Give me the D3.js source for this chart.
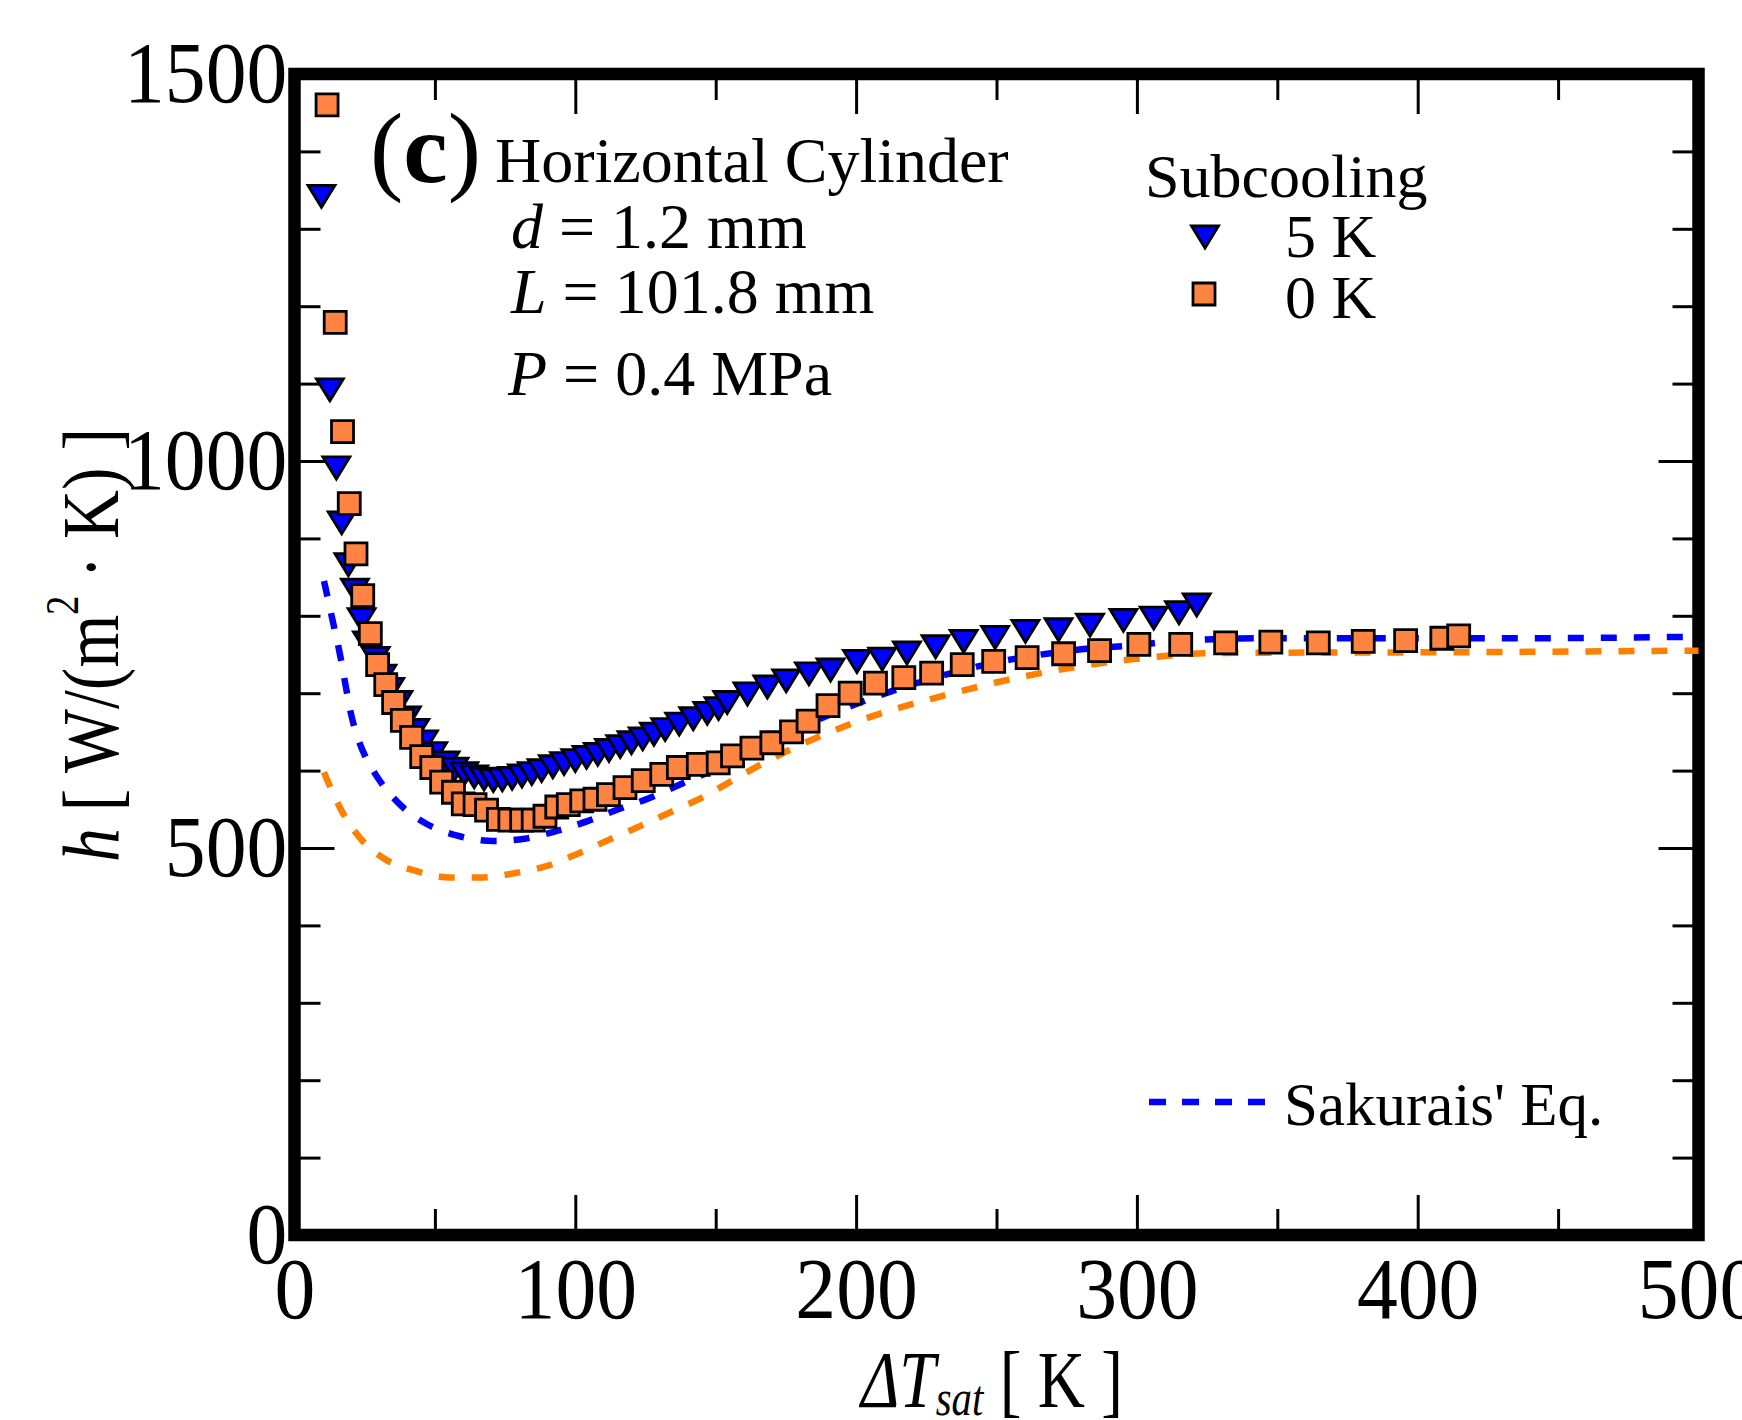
<html>

<head>
  <script src="https://d3js.org/d3.v7.min.js"></script>
</head>

<style>
  body {
    margin: 0;
    background: white;
  }

  text {
    font-family: "Liberation Serif", "Times New Roman", serif;
    fill: black;
  }

  .tick line {
    stroke: black;
    stroke-width: 3px;
  }

  .sakurai {
    fill: none;
    stroke-width: 6.5px;
    stroke-dasharray: 16 17;
  }
</style>

<body>

  <svg id="chart" width="1742" height="1420"></svg>

  <script>

    // subcooling 5 K (triangles)
    const dT5 = [9.6, 12.6, 14.9, 16.8, 19.2, 21.5, 23.9, 25.8, 28.9, 31.3, 34.1, 37.0, 40.0, 43.0, 46.1, 49.4,
      53.8, 57.0, 60.5, 64.0, 67.5, 70.8, 74.0, 77.5, 81.0, 84.5, 88.0, 92.0, 96.0, 100.0, 104.0, 108.0, 112.0,
      116.0, 120.0, 124.0, 128.0, 132.0, 137.0, 142.0, 147.0, 151.0, 154.1, 161.3, 168.4, 175.1, 183.2, 190.9,
      200.3, 209.3, 218.1, 228.3, 238.3, 249.5, 260.3, 272.1, 283.3, 295.2, 306.0, 315.0, 321.3];
    const h5 = [1342, 1092, 991, 920, 866, 833, 795, 765, 745, 722, 705, 688, 668, 652, 637, 622,
      610, 602, 596, 592, 589, 587, 588, 590, 593, 596, 600, 605, 609, 613, 617, 621, 626,
      631, 636, 641, 647, 653, 660, 667, 674, 680, 688, 699, 708, 716, 725, 730,
      741, 744, 752, 760, 767, 772, 780, 782, 788, 794, 797, 804, 814];

    // subcooling 0 K (squares)
    const dT0 = [11.6, 14.5, 17.1, 19.5, 21.9, 24.3, 27.0, 29.6, 32.5, 35.3, 38.4, 41.7, 45.3, 48.9, 52.4, 56.6,
      60.1, 64.3, 68.4, 72.6, 76.7, 80.9, 85.0, 89.2, 93.4, 97.5, 102.3, 107.0, 111.8, 117.7, 124.2, 130.8,
      136.7, 143.8, 150.9, 156.0, 162.9, 170.0, 177.0, 182.9, 190.0, 197.9, 206.9, 217.0, 226.9, 237.8, 249.0,
      260.9, 273.9, 286.7, 300.7, 315.6, 331.6, 347.7, 364.6, 380.6, 395.7, 408.6, 414.6];
    const h0 = [1460, 1179, 1038, 945, 880, 826, 777, 737, 711, 688, 665, 643, 618, 604, 585, 572,
      557, 556, 549, 537, 536, 536, 536, 541, 553, 556, 561, 563, 569, 578, 587, 595,
      604, 608, 610, 619, 629, 636, 650, 664, 684, 700, 713, 720, 726, 737, 741,
      746, 751, 755, 763, 763, 765, 766, 765, 767, 768, 771, 774];

    // Sakurai's equation, 5 K (blue dashed)
    const sakT5 = [10.5, 13.7, 16.2, 18.3, 20.2, 22.3, 25.0, 28.0, 31.5, 37.6, 47.1, 58.0, 70.8, 82.0, 93.4,
      104.6, 115.3, 126.0, 137.3, 150.0, 165.0, 180.0, 201.4, 213.0, 230.0, 250.0, 270.0, 287.0, 296.0, 316.0,
      345.0, 433.0, 500.0];
    const sakH5 = [845, 792, 750, 708, 672, 645, 620, 600, 581, 556, 531, 516, 509, 512, 522,
      535, 550, 564, 582, 602, 628, 655, 688, 703, 722, 740, 752, 759, 761, 768,
      771, 771, 773];

    // Sakurai's equation, 0 K (orange dashed)
    const sakT0 = [10.5, 12.0, 16.8, 23.3, 31.6, 43.5, 55.4, 67.2, 79.1, 91.0, 101.7, 113.5, 124.2, 134.9,
      145.6, 156.3, 168.2, 197.8, 233.4, 263.0, 298.7, 330.6, 418.0, 500.0];
    const sakH0 = [598, 585, 548, 513, 487, 470, 462, 462, 468, 478, 494, 513, 530, 548,
      566, 588, 612, 660, 699, 724, 744, 752, 753, 755];

    const xMajorTicks = [0, 100, 200, 300, 400, 500];
    const xMinorTicks = [50, 150, 250, 350, 450];
    const yMajorTicks = [0, 500, 1000, 1500];
    const yMinorTicks = [100, 200, 300, 400, 600, 700, 800, 900, 1100, 1200, 1300, 1400];

    const svg = d3.select("svg#chart");
    const frameWidth = 12.5;
    const majorLen = 40;   // measured from frame centre line
    const minorLen = 26;

    const xScale = d3.scaleLinear().domain([0, 500]).range([294.5, 1698.5]);
    const yScale = d3.scaleLinear().domain([0, 1500]).range([1235, 74]);

    const x0 = xScale(0), x1 = xScale(500), y0 = yScale(0), y1 = yScale(1500);

    // axes (ticks point inwards)
    let axes = svg.append("g").attr("id", "axes");

    function tidy(g) {
      g.select(".domain").remove();
      g.attr("font-family", "Liberation Serif, serif").attr("font-size", 86);
      g.selectAll(".tick text").attr("transform", "scale(0.95,1)");
    }

    axes.append("g").attr("transform", `translate(0,${y0})`)
      .call(d3.axisBottom(xScale).tickValues(xMajorTicks).tickSize(-majorLen).tickPadding(22).tickFormat(d3.format("d")))
      .call(tidy);
    axes.append("g").attr("transform", `translate(0,${y0})`)
      .call(d3.axisBottom(xScale).tickValues(xMinorTicks).tickSize(-minorLen).tickFormat(""))
      .call(tidy);
    axes.append("g").attr("transform", `translate(0,${y1})`)
      .call(d3.axisTop(xScale).tickValues(xMajorTicks).tickSize(-majorLen).tickFormat(""))
      .call(tidy);
    axes.append("g").attr("transform", `translate(0,${y1})`)
      .call(d3.axisTop(xScale).tickValues(xMinorTicks).tickSize(-minorLen).tickFormat(""))
      .call(tidy);

    axes.append("g").attr("transform", `translate(${x0},0)`)
      .call(d3.axisLeft(yScale).tickValues(yMajorTicks).tickSize(-majorLen).tickPadding(7.5).tickFormat(d3.format("d")))
      .call(tidy);
    axes.append("g").attr("transform", `translate(${x0},0)`)
      .call(d3.axisLeft(yScale).tickValues(yMinorTicks).tickSize(-minorLen).tickFormat(""))
      .call(tidy);
    axes.append("g").attr("transform", `translate(${x1},0)`)
      .call(d3.axisRight(yScale).tickValues(yMajorTicks).tickSize(-majorLen).tickFormat(""))
      .call(tidy);
    axes.append("g").attr("transform", `translate(${x1},0)`)
      .call(d3.axisRight(yScale).tickValues(yMinorTicks).tickSize(-minorLen).tickFormat(""))
      .call(tidy);

    // thick frame
    axes.append("rect")
      .attr("x", x0).attr("y", y1)
      .attr("width", x1 - x0).attr("height", y0 - y1)
      .attr("fill", "none")
      .attr("stroke", "black")
      .attr("stroke-width", frameWidth);

    // Sakurai curves
    const lineGen = d3.line()
      .x(d => xScale(d[0]))
      .y(d => yScale(d[1]))
      .curve(d3.curveMonotoneX);

    let chartArea = svg.append("g").attr("id", "points");

    chartArea.append("path")
      .datum(d3.zip(sakT0, sakH0))
      .attr("class", "sakurai")
      .attr("stroke", "#ff8000")
      .attr("d", lineGen);

    chartArea.append("path")
      .datum(d3.zip(sakT5, sakH5))
      .attr("class", "sakurai")
      .attr("stroke", "#0000ff")
      .attr("d", lineGen);

    // markers
    const triPath = "M-13.5,-11L13.5,-11L0,11Z";
    const sqPath = "M-11,-11H11V11H-11Z";

    chartArea.append("g").selectAll("path")
      .data(d3.zip(dT5, h5))
      .join("path")
      .attr("d", triPath)
      .attr("transform", d => `translate(${xScale(d[0])},${yScale(d[1])})`)
      .attr("fill", "#0000ff")
      .attr("stroke", "black")
      .attr("stroke-width", 2.8);

    chartArea.append("g").selectAll("path")
      .data(d3.zip(dT0, h0))
      .join("path")
      .attr("d", sqPath)
      .attr("transform", d => `translate(${xScale(d[0])},${yScale(d[1])})`)
      .attr("fill", "#ff8442")
      .attr("stroke", "black")
      .attr("stroke-width", 2.8);

    // annotations
    let annotations = svg.append("g").attr("id", "annotations");

    const cLabel = annotations.append("text").attr("x", 370).attr("y", 182).attr("font-size", 100);
    cLabel.append("tspan").text("(");
    cLabel.append("tspan").attr("font-weight", "bold").text("c");
    cLabel.append("tspan").text(")");

    annotations.append("text").attr("x", 495).attr("y", 182).attr("font-size", 64).text("Horizontal Cylinder");

    const params = [
      { sym: "d", rest: " = 1.2 mm", x: 511, y: 248 },
      { sym: "L", rest: " = 101.8 mm", x: 511, y: 313 },
      { sym: "P", rest: " = 0.4 MPa", x: 508, y: 395 }
    ];
    params.forEach(p => {
      const t = annotations.append("text").attr("x", p.x).attr("y", p.y).attr("font-size", 64);
      t.append("tspan").attr("font-style", "italic").text(p.sym);
      t.append("tspan").text(p.rest);
    });

    // legend
    annotations.append("text").attr("x", 1145).attr("y", 197).attr("font-size", 62).text("Subcooling");
    annotations.append("path").attr("d", triPath).attr("transform", "translate(1205,237)")
      .attr("fill", "#0000ff").attr("stroke", "black").attr("stroke-width", 2.8);
    annotations.append("text").attr("x", 1285).attr("y", 257).attr("font-size", 62).text("5 K");
    annotations.append("path").attr("d", sqPath).attr("transform", "translate(1204,294)")
      .attr("fill", "#ff8442").attr("stroke", "black").attr("stroke-width", 2.8);
    annotations.append("text").attr("x", 1285).attr("y", 318).attr("font-size", 62).text("0 K");

    annotations.append("line")
      .attr("x1", 1149).attr("x2", 1268).attr("y1", 1102).attr("y2", 1102)
      .attr("stroke", "#0000ff").attr("stroke-width", 6.5).attr("stroke-dasharray", "17 16");
    annotations.append("text").attr("x", 1284).attr("y", 1125).attr("font-size", 61).text("Sakurais' Eq.");

    // axis titles, squeezed to the measured length
    function fitLength(sel, target, base) {
      const w = sel.node().getComputedTextLength();
      sel.attr("transform", `${base} scale(${target / w},1)`);
    }

    const xTitle = annotations.append("text")
      .attr("text-anchor", "middle").attr("font-size", 80);
    xTitle.append("tspan").attr("font-style", "italic").text("ΔT");
    xTitle.append("tspan").attr("font-style", "italic").attr("font-size", 50).attr("dy", 8).text("sat");
    xTitle.append("tspan").attr("dy", -8).text(" [ K ]");
    fitLength(xTitle, 262, "translate(992,1407)");

    const yTitle = annotations.append("text")
      .attr("text-anchor", "middle").attr("font-size", 80);
    yTitle.append("tspan").attr("font-style", "italic").text("h");
    yTitle.append("tspan").text(" [ W/(m");
    yTitle.append("tspan").attr("font-size", 46).attr("dy", -40).text("2");
    yTitle.append("tspan").attr("dy", 40).text(" · K) ]");
    fitLength(yTitle, 434, "translate(118,645) rotate(-90)");

  </script>

</body>

</html>
